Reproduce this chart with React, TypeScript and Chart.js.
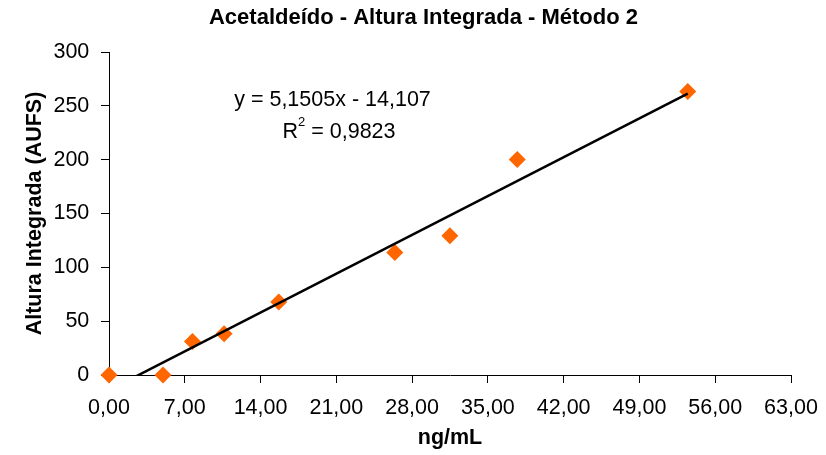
import React, { useEffect, useRef } from 'react';
import { Chart, registerables } from 'chart.js';

Chart.register(...registerables);

// ---- data ----
const concentrations = [0, 4.99, 7.71, 10.63, 15.68, 26.4, 31.49, 37.71, 53.46];
const heights = [0, 0, 31.1, 38.3, 67.7, 113.7, 129.4, 200.2, 263.3];
const xTickValues = [0, 7, 14, 21, 28, 35, 42, 49, 56, 63];
const yTickValues = [0, 50, 100, 150, 200, 250, 300];
const trendSlope = 5.1505;
const trendIntercept = -14.107;
const trendRange = [0, 53.46];
const titleText = 'Acetaldeído - Altura Integrada - Método 2';
const xAxisTitle = 'ng/mL';
const yAxisTitle = 'Altura Integrada (AUFS)';
const equationText = 'y = 5,1505x - 14,107';
const r2Label = 'R';
const r2Sup = '2';
const r2Value = ' = 0,9823';

const FONT = '"Liberation Sans", Arial, sans-serif';

const equationPlugin = {
  id: 'equation',
  afterDraw(chart: any) {
    const ctx = chart.ctx;
    ctx.save();
    ctx.fillStyle = '#000';
    ctx.textBaseline = 'alphabetic';
    ctx.font = `21.5px ${FONT}`;
    ctx.textAlign = 'center';
    ctx.fillText(equationText, 332.5, 106);
    // R² line
    ctx.textAlign = 'left';
    const wR = ctx.measureText(r2Label).width;
    const wV = ctx.measureText(r2Value).width;
    ctx.font = `13px ${FONT}`;
    const wS = ctx.measureText(r2Sup).width;
    const total = wR + wS + wV;
    let x = 339 - total / 2;
    ctx.font = `21.5px ${FONT}`;
    ctx.fillText(r2Label, x, 138);
    x += wR;
    ctx.font = `13px ${FONT}`;
    ctx.fillText(r2Sup, x, 126);
    x += wS;
    ctx.font = `21.5px ${FONT}`;
    ctx.fillText(r2Value, x, 138);
    ctx.restore();
  },
};

export default function App() {
  const ref = useRef<HTMLCanvasElement | null>(null);

  useEffect(() => {
    if (!ref.current) return;
    const points = concentrations.map((x, i) => ({ x, y: heights[i] }));
    const trend = trendRange.map((x) => ({ x, y: trendSlope * x + trendIntercept }));
    const chart = new Chart(ref.current, {
      type: 'scatter',
      data: {
        datasets: [
          {
            label: 'Linear',
            data: trend,
            showLine: true,
            borderColor: '#000',
            borderWidth: 2.5,
            pointRadius: 0,
            fill: false,
            clip: 0,
            order: 0,
          } as any,
          {
            label: 'Acetaldeído',
            data: points,
            pointStyle: 'rectRot',
            pointRadius: 8.5,
            pointHoverRadius: 8.5,
            backgroundColor: '#FF6600',
            borderColor: '#FF6600',
            pointBorderWidth: 0,
            clip: false,
            order: 1,
          } as any,
        ],
      },
      options: {
        responsive: false,
        devicePixelRatio: 1,
        animation: false,
        events: [],
        layout: { padding: { left: 21, right: 0, top: 0, bottom: 0 } },
        plugins: {
          legend: { display: false },
          tooltip: { enabled: false },
          title: {
            display: true,
            text: titleText,
            color: '#000',
            font: { family: FONT, size: 22, weight: 'bold' },
            padding: { top: 5, bottom: 20.6 },
          },
        },
        scales: {
          x: {
            type: 'linear',
            position: 'bottom',
            min: 0,
            max: 63,
            afterBuildTicks: (s: any) => {
              s.ticks = xTickValues.map((v) => ({ value: v }));
            },
            afterFit: (s: any) => {
              s.height = 80;
              s.paddingLeft = 0;
              s.paddingRight = 0;
            },
            ticks: {
              autoSkip: false,
              maxRotation: 0,
              color: '#000',
              padding: 12.6,
              font: { family: FONT, size: 21.5 },
              callback: (v: any) => Number(v).toFixed(2).replace('.', ','),
            },
            grid: { drawOnChartArea: false, drawTicks: true, tickLength: 8, color: '#000' },
            border: { display: true, color: '#000', width: 1 },
            title: {
              display: true,
              text: xAxisTitle,
              color: '#000',
              font: { family: FONT, size: 21.5, weight: 'bold' },
              padding: { top: 0, bottom: 4.1 },
            },
          },
          y: {
            type: 'linear',
            position: 'left',
            min: 0,
            max: 300,
            afterBuildTicks: (s: any) => {
              s.ticks = yTickValues.map((v) => ({ value: v }));
            },
            afterFit: (s: any) => {
              s.width = 88;
            },
            ticks: {
              color: '#000',
              padding: 11.7,
              font: { family: FONT, size: 21.5 },
              callback: (v: any) => String(v),
            },
            grid: { drawOnChartArea: false, drawTicks: true, tickLength: 8, color: '#000' },
            border: { display: true, color: '#000', width: 1 },
            title: {
              display: true,
              text: yAxisTitle,
              color: '#000',
              font: { family: FONT, size: 21.5, weight: 'bold' },
              padding: { top: 1.1, bottom: 0 },
            },
          },
          y2: {
            type: 'linear',
            position: 'right',
            display: true,
            afterFit: (s: any) => {
              s.width = 35;
            },
            ticks: { display: false },
            grid: { display: false, drawTicks: false },
            border: { display: false },
          },
        },
      },
      plugins: [equationPlugin],
    } as any);
    return () => chart.destroy();
  }, []);

  return (
    <div style={{ position: 'fixed', left: 0, top: 0, width: 826, height: 455, background: '#fff' }}>
      <canvas ref={ref} width={826} height={455} style={{ width: 826, height: 455, display: 'block' }} />
    </div>
  );
}
